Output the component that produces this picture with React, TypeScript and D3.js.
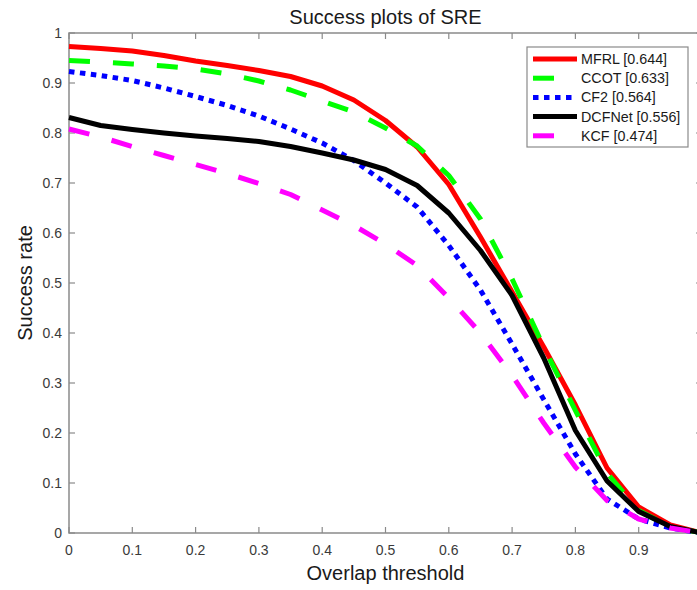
import React from "react"
import * as d3 from "d3"

// overlap thresholds 0, 0.05, ... 1
const thresholds = d3.range(0, 21).map((i) => i / 20)
// the right end (1) falls outside the cropped picture, so its label is not shown
const xTicks = [0, 0.1, 0.2, 0.3, 0.4, 0.5, 0.6, 0.7, 0.8, 0.9]
const yTicks = [0, 0.1, 0.2, 0.3, 0.4, 0.5, 0.6, 0.7, 0.8, 0.9, 1]

const mfrl = [0.973, 0.969, 0.964, 0.955, 0.944, 0.935, 0.925, 0.913, 0.894, 0.866, 0.825, 0.772, 0.697, 0.592, 0.482, 0.372, 0.256, 0.13, 0.052, 0.016, 0]
const ccot = [0.945, 0.942, 0.938, 0.934, 0.928, 0.918, 0.904, 0.886, 0.864, 0.842, 0.81, 0.774, 0.715, 0.628, 0.508, 0.372, 0.245, 0.12, 0.045, 0.012, 0]
const cf2 = [0.923, 0.915, 0.905, 0.89, 0.873, 0.855, 0.834, 0.808, 0.78, 0.745, 0.7, 0.652, 0.575, 0.486, 0.378, 0.267, 0.158, 0.068, 0.028, 0.01, 0]
const dcfnet = [0.831, 0.815, 0.807, 0.8, 0.794, 0.789, 0.783, 0.773, 0.76, 0.746, 0.727, 0.695, 0.64, 0.565, 0.475, 0.35, 0.205, 0.104, 0.043, 0.013, 0]
const kcf = [0.808, 0.792, 0.773, 0.755, 0.737, 0.719, 0.699, 0.677, 0.646, 0.615, 0.578, 0.535, 0.47, 0.4, 0.315, 0.22, 0.132, 0.065, 0.028, 0.01, 0]

const seriesNames = ["MFRL [0.644]", "CCOT [0.633]", "CF2 [0.564]", "DCFNet [0.556]", "KCF [0.474]"]
const seriesValues = [mfrl, ccot, cf2, dcfnet, kcf]
const seriesColors = ["#ff0000", "#00ff00", "#0000ff", "#000000", "#ff00ff"]
const seriesDash = [null, "21,23", "5.5,5.5", null, "21,23"]

const W = 697
const H = 590
const margin = { top: 33, left: 69 }
const plotW = 633
const plotH = 500
const font = "'Liberation Sans', Arial, Helvetica, sans-serif"
const axisColor = "#8a8a8a"

export default function App() {
  const x = d3.scaleLinear().domain([0, 1]).range([margin.left, margin.left + plotW])
  const y = d3.scaleLinear().domain([0, 1]).range([margin.top + plotH, margin.top])

  const line = d3
    .line<number>()
    .x((_, i) => x(thresholds[i]))
    .y((d) => y(d))

  const x0 = x(0), x1 = x(1), y0 = y(0), y1 = y(1)
  const legX = 527, legY = 47, legW = 161, legH = 100

  return (
    <svg width={W} height={H} style={{ position: "absolute", left: 0, top: 0 }} fontFamily={font}>
      <rect width={W} height={H} fill="#fff" />
      {/* box */}
      <rect x={x0} y={y1} width={x1 - x0} height={y0 - y1} fill="none" stroke={axisColor} strokeWidth={1.5} />
      {xTicks.map((t) => (
        <g key={"x" + t}>
          <line x1={x(t)} x2={x(t)} y1={y0} y2={y0 - 6} stroke={axisColor} strokeWidth={1.2} />
          <line x1={x(t)} x2={x(t)} y1={y1} y2={y1 + 6} stroke={axisColor} strokeWidth={1.2} />
          <text x={x(t)} y={y0 + 22} textAnchor="middle" fontSize={14} fill="#3a3a3a">
            {d3.format("~g")(t)}
          </text>
        </g>
      ))}
      {yTicks.map((t) => (
        <g key={"y" + t}>
          <line x1={x0} x2={x0 + 6} y1={y(t)} y2={y(t)} stroke={axisColor} strokeWidth={1.2} />
          <line x1={x1} x2={x1 - 6} y1={y(t)} y2={y(t)} stroke={axisColor} strokeWidth={1.2} />
          <text x={x0 - 7} y={y(t) + 5} textAnchor="end" fontSize={14} fill="#3a3a3a">
            {d3.format("~g")(t)}
          </text>
        </g>
      ))}

      {seriesValues.map((vals, i) => (
        <path
          key={seriesNames[i]}
          d={line(vals) || ""}
          fill="none"
          stroke={seriesColors[i]}
          strokeWidth={5}
          strokeDasharray={seriesDash[i] || undefined}
          strokeLinejoin="round"
        />
      ))}

      <text x={(x0 + x1) / 2} y={24} textAnchor="middle" fontSize={20} fill="#1a1a1a">
        Success plots of SRE
      </text>
      <text x={(x0 + x1) / 2} y={580} textAnchor="middle" fontSize={20} fill="#1a1a1a">
        Overlap threshold
      </text>
      <text
        transform={`translate(32,${y(0.5)}) rotate(-90)`}
        textAnchor="middle"
        fontSize={20}
        fill="#1a1a1a"
      >
        Success rate
      </text>

      {/* legend */}
      <rect x={legX} y={legY} width={legW} height={legH} fill="#fff" stroke={axisColor} strokeWidth={1.2} />
      {seriesNames.map((name, i) => {
        const cy = legY + 12 + i * 19.2
        return (
          <g key={"leg" + name}>
            <line
              x1={533}
              x2={577}
              y1={cy}
              y2={cy}
              stroke={seriesColors[i]}
              strokeWidth={5}
              strokeDasharray={seriesDash[i] || undefined}
            />
            <text x={581} y={cy + 5} fontSize={14.3} fill="#1a1a1a">
              {name}
            </text>
          </g>
        )
      })}
    </svg>
  )
}
